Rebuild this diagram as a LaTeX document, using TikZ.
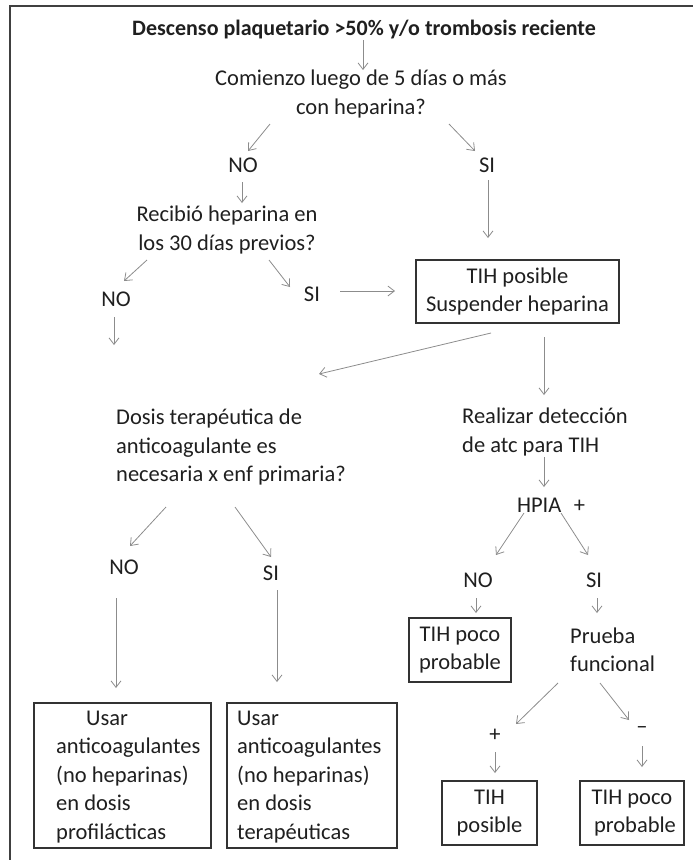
\documentclass[tikz,border=0pt]{standalone}
\usepackage{fontspec}
\setmainfont{Carlito}
\usetikzlibrary{arrows.meta}
\begin{document}
\begin{tikzpicture}[x=1pt,y=-1pt,
  txt/.style={font=\fontsize{22.5}{28.5}\selectfont, inner sep=0pt, text=black!88},
  ttl/.style={font=\fontsize{22}{28}\selectfont\bfseries, inner sep=0pt, text=black!88},
  boxr/.style={draw=black!80, line width=1.5pt, inner sep=0pt},
  boxt/.style={boxr, font=\fontsize{22.5}{28.5}\selectfont, text=black!88, align=center},
  arr/.style={draw=black!45, line width=0.8pt, -{Straight Barb[length=6.5pt,width=10pt,line width=0.8pt]}},
  frame/.style={draw=black!75, line width=2pt}]
\useasboundingbox (0,0) rectangle (693,860);
\draw[frame] (693,6) -- (10,6) -- (10,860);

% texts
\node[ttl] (title) at (364,30) {Descenso plaquetario >50\% y/o trombosis reciente};
\node[txt, align=center] (q1) at (361,94) {Comienzo luego de 5 días o más\\con heparina?};
\node[txt] (no1) at (243,165) {NO};
\node[txt] (si1) at (487,165) {SI};
\node[txt, align=center] (q2) at (227,230) {Recibió heparina en\\los 30 días previos?};
\node[txt] (no2) at (116,299) {NO};
\node[txt] (si2) at (312,294) {SI};
\node[boxt, minimum width=203pt, minimum height=63pt] (b1) at (517.5,291.5) {TIH posible\\Suspender heparina};
\node[txt, align=left, anchor=west] (q3) at (116,447) {Dosis terapéutica de\\anticoagulante es\\necesaria x enf primaria?};
\node[txt, align=left, anchor=west] (q4) at (462,432) {Realizar detección\\de atc para TIH};
\node[txt] (hpia) at (551,505) {HPIA\hspace{0.55em}+};
\node[txt] (no3) at (124,567) {NO};
\node[txt] (si3) at (271,573) {SI};
\node[txt] (no4) at (478,580) {NO};
\node[txt] (si4) at (594,580) {SI};
\node[boxt, minimum width=102pt, minimum height=64pt] (b2) at (460,650) {TIH poco\\probable};
\node[txt, align=left, anchor=west] (pf) at (570,650) {Prueba\\funcional};
\node[txt] (plus) at (495,735) {+};
\node[txt] (minus) at (642,730) {–};
\node[boxt, minimum width=95pt, minimum height=64pt] (b3) at (489.5,813) {TIH\\posible};
\node[boxt, minimum width=104pt, minimum height=64pt] (b4) at (632,813) {TIH poco\\\hspace*{6pt}probable};
\node[boxr, minimum width=177pt, minimum height=145pt] (b5) at (122.5,775.5) {};
\node[boxr, minimum width=170pt, minimum height=145pt] (b6) at (312,775.5) {};
\node[txt, align=left, anchor=west] (t5) at (56,777) {\hspace*{30pt}Usar\\anticoagulantes\\(no heparinas)\\en dosis\\profilácticas};
\node[txt, align=left, anchor=west] (t6) at (237,777) {Usar\\anticoagulantes\\(no heparinas)\\en dosis\\terapéuticas};

% connector end points
\coordinate (a1s) at (363,40);  \coordinate (a1e) at (363,70);
\coordinate (a2s) at (270,124); \coordinate (a2e) at (248,151);
\coordinate (a3s) at (449,124); \coordinate (a3e) at (475,151);
\coordinate (a4s) at (242,182); \coordinate (a4e) at (242,203);
\coordinate (a5s) at (488,180); \coordinate (a5e) at (488,238);
\coordinate (a6s) at (147,260); \coordinate (a6e) at (124,281);
\coordinate (a7s) at (269,260); \coordinate (a7e) at (290,287);
\coordinate (a8s) at (340,291); \coordinate (a8e) at (395,291);
\coordinate (a9s) at (114,317); \coordinate (a9e) at (114,345);
\coordinate (a10s) at (491,333); \coordinate (a10e) at (319,374);
\coordinate (a11s) at (544,337); \coordinate (a11e) at (544,395);
\coordinate (a12s) at (544,457); \coordinate (a12e) at (544,487);
\coordinate (a13s) at (166,507); \coordinate (a13e) at (130,546);
\coordinate (a14s) at (235,507); \coordinate (a14e) at (271,557);
\coordinate (a15s) at (524,513); \coordinate (a15e) at (496,555);
\coordinate (a16s) at (561,513); \coordinate (a16e) at (588,555);
\coordinate (a17s) at (116,598); \coordinate (a17e) at (116,688);
\coordinate (a18s) at (277,590); \coordinate (a18e) at (277,682);
\coordinate (a19s) at (476,598); \coordinate (a19e) at (476,613);
\coordinate (a20s) at (597,598); \coordinate (a20e) at (597,613);
\coordinate (a21s) at (558,683); \coordinate (a21e) at (516,724);
\coordinate (a22s) at (600,683); \coordinate (a22e) at (629,720);
\coordinate (a23s) at (495,752); \coordinate (a23e) at (495,773);
\coordinate (a24s) at (642,746); \coordinate (a24e) at (642,767);

\foreach \i in {1,...,24} {\draw[arr] (a\i s) -- (a\i e);}
\end{tikzpicture}
\end{document}
